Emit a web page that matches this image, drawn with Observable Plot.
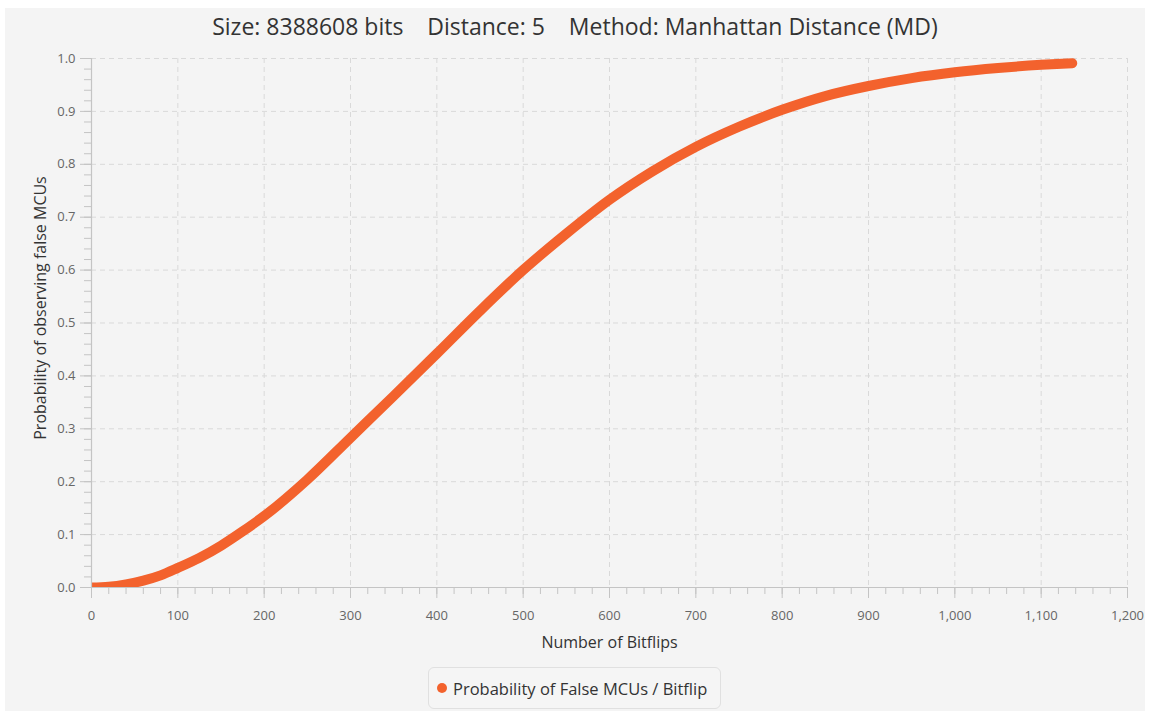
<!DOCTYPE html>
<html>
<head>
<meta charset="utf-8">
<script src="https://cdn.jsdelivr.net/npm/d3@7"></script>
<script src="https://cdn.jsdelivr.net/npm/@observablehq/plot@0.6"></script>
<style>
  html, body { margin: 0; padding: 0; background: #ffffff; width: 1150px; height: 711px; overflow: hidden; }
  body { position: relative; font-family: "Segoe UI", "Open Sans", "Noto Sans", sans-serif; }
  #panel { position: absolute; left: 5px; top: 8px; width: 1140px; height: 703px; background: #f4f4f4; }
  #title { position: absolute; left: 0; top: 9px; width: 1150px; text-align: center; font-size: 23px; color: #333; white-space: pre; line-height: 34px; }
  #chart { position: absolute; left: 0; top: 0; }
  #legend { position: absolute; left: 428px; top: 667px; width: 293px; height: 42px; box-sizing: border-box; border: 1px solid #e0e0e0; border-radius: 6px; background: #f5f5f5; display: flex; align-items: center; padding-left: 8px; font-size: 16.5px; color: #333; white-space: nowrap; }
  #legend .dot { width: 10px; height: 10px; border-radius: 50%; background: #f3622d; margin-right: 6px; flex: none; }
</style>
</head>
<body>
<div id="panel"></div>
<div id="title">Size: 8388608 bits    Distance: 5    Method: Manhattan Distance (MD)</div>
<div id="chart"></div>
<div id="legend"><span class="dot"></span><span id="legendText">Probability of False MCUs / Bitflip</span></div>
<script>
// Data
const bitflips = [0, 20, 40, 60, 80, 100, 125, 150, 175, 200, 250, 300, 350, 400, 450, 500, 550, 600, 650, 700, 750, 800, 850, 900, 950, 1000, 1050, 1100, 1136];
const probability = [0, 0.0015, 0.006, 0.013, 0.023, 0.037, 0.056, 0.079, 0.106, 0.135, 0.204, 0.283, 0.362, 0.442, 0.523, 0.600, 0.669, 0.733, 0.787, 0.833, 0.871, 0.903, 0.929, 0.948, 0.963, 0.974, 0.982, 0.988, 0.991];
const xTicks = [0, 100, 200, 300, 400, 500, 600, 700, 800, 900, 1000, 1100, 1200];
const yTicks = [0, 0.1, 0.2, 0.3, 0.4, 0.5, 0.6, 0.7, 0.8, 0.9, 1.0];
const seriesName = "Probability of False MCUs / Bitflip";
const xLabel = "Number of Bitflips";
const yLabel = "Probability of observing false MCUs";

const data = bitflips.map((b, i) => ({b, p: probability[i]}));
const xMinor = d3.range(0, 1201, 20);
const yMinor = d3.range(0, 1.0001, 0.02);

const gridStyle = {stroke: "#d9d9d9", strokeOpacity: 1, strokeDasharray: "5,4", strokeWidth: 1};
const axisColor = "#c4c4c4";

const chart = Plot.plot({
  width: 1150,
  height: 660,
  marginLeft: 91,
  marginRight: 23,
  marginTop: 58,
  marginBottom: 73,
  style: {background: "transparent", fontFamily: "'Segoe UI', 'Open Sans', 'Noto Sans', sans-serif", fontSize: "13px", color: "#666"},
  x: {domain: [0, 1200]},
  y: {domain: [0, 1]},
  marks: [
    Plot.gridX(xTicks.filter(d => d > 0), gridStyle),
    Plot.gridY(yTicks.filter(d => d > 0), gridStyle),
    Plot.line(data, {x: "b", y: "p", stroke: "#f3622d", strokeWidth: 10, curve: "monotone-x", strokeLinecap: "round", strokeLinejoin: "round", clip: true}),
    Plot.axisX(xMinor, {tickSize: 7, tickFormat: null, text: null, stroke: axisColor, label: null}),
    Plot.axisY(yMinor, {tickSize: 7, tickFormat: null, text: null, stroke: axisColor, label: null}),
    Plot.axisX(xTicks, {tickSize: 11, tickPadding: 12, tickFormat: d3.format(","), stroke: axisColor, fill: "#666", label: null}),
    Plot.axisY(yTicks, {tickSize: 11, tickPadding: 5, tickFormat: d3.format(".1f"), stroke: axisColor, fill: "#666", label: null}),
    Plot.ruleY([0], {stroke: axisColor, strokeWidth: 1.2}),
    Plot.ruleX([0], {stroke: axisColor, strokeWidth: 1.2}),
    Plot.text([xLabel], {frameAnchor: "bottom", textAnchor: "middle", lineAnchor: "middle", dy: 55, fontSize: 16, fill: "#333"}),
    Plot.text([yLabel], {frameAnchor: "left", textAnchor: "middle", lineAnchor: "middle", dx: -51, dy: -15, rotate: -90, fontSize: 16, fill: "#333"})
  ]
});
document.getElementById("chart").appendChild(chart);
document.getElementById("legendText").textContent = seriesName;
</script>
</body>
</html>
